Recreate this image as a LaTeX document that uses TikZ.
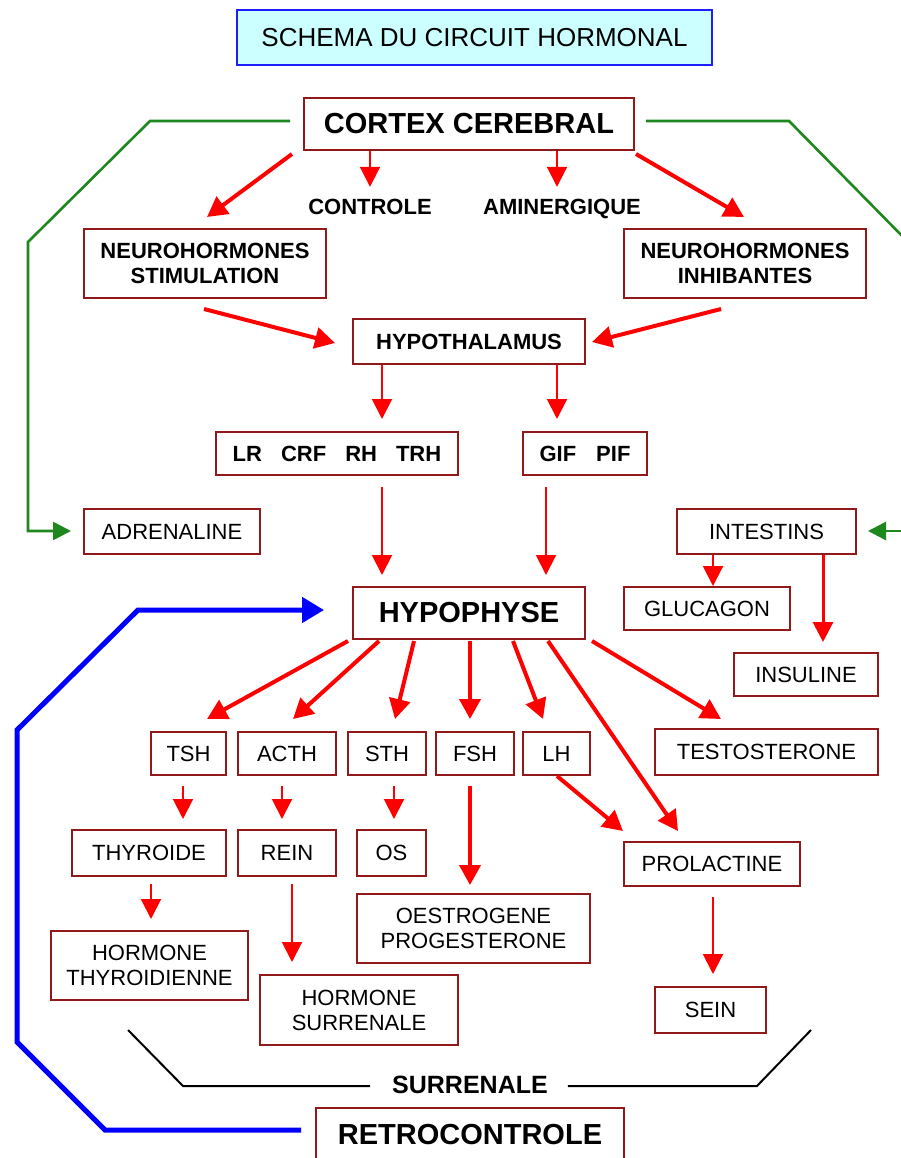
\documentclass[tikz,border=0pt]{standalone}
\usepackage{fontspec}
\setmainfont{Liberation Sans}
\usetikzlibrary{arrows.meta,calc}

\definecolor{boxred}{RGB}{145,25,25}
\definecolor{titlefill}{RGB}{204,255,255}
\definecolor{titleblue}{RGB}{30,30,255}
\definecolor{linkgreen}{RGB}{30,135,30}
\definecolor{fbblue}{RGB}{0,0,255}

\newcommand\txtnorm{\fontsize{22}{25}\selectfont}
\newcommand\txtbig{\fontsize{29}{32}\selectfont\bfseries}

\tikzset{
  box/.style={draw=boxred, line width=2pt, fill=white, inner sep=0pt,
              align=center, font=\txtnorm},
  boldbox/.style={box, font=\txtnorm\bfseries},
  lbl/.style={inner sep=0pt, text height=16pt, text depth=0pt, font=\txtnorm\bfseries},
  rthick/.style={draw=red, line width=4pt, -{Triangle[length=20pt,width=21pt]}},
  rthin/.style={draw=red, line width=2pt, -{Triangle[length=20pt,width=20pt]}},
  glink/.style={draw=linkgreen, line width=2.6pt, -{Triangle[length=18pt,width=18pt]}},
  blink/.style={draw=fbblue, line width=5pt, -{Triangle[length=22pt,width=25pt]}},
}

\begin{document}
\begin{tikzpicture}[x=1pt, y=-1pt]
\clip (0,0) rectangle (901,1158);
\fill[white] (0,0) rectangle (901,1158);

% ---- title ----
\node[draw=titleblue, fill=titlefill, line width=2pt, inner sep=0pt,
      minimum width=475pt, minimum height=55pt,
      font=\fontsize{26}{28}\selectfont] (title) at (474.5,37.5)
      {SCHEMA DU CIRCUIT HORMONAL};

% ---- upper part ----
\node[box, font=\txtbig, minimum width=330pt, minimum height=52pt] (cortex) at (469,124) {CORTEX CEREBRAL};
\node[lbl] (ctl)  at (370,207) {CONTROLE};
\node[lbl] (amin) at (562,207) {AMINERGIQUE};
\node[boldbox, minimum width=242pt, minimum height=69pt] (neuS) at (205,263.5) {NEUROHORMONES\\STIMULATION};
\node[boldbox, minimum width=242pt, minimum height=69pt] (neuI) at (745,263.5) {NEUROHORMONES\\INHIBANTES};
\node[boldbox, minimum width=232pt, minimum height=45pt] (hyth) at (469,341.5) {HYPOTHALAMUS};
\node[boldbox, minimum width=242pt, minimum height=43pt] (lr) at (337,453.5)
   {LR\hspace{19pt}CRF\hspace{19pt}RH\hspace{19pt}TRH};
\node[boldbox, minimum width=124pt, minimum height=43pt] (gif) at (585,453.5)
   {GIF\hspace{20pt}PIF};
\node[box, minimum width=176pt, minimum height=45pt] (adr) at (172,531.5) {ADRENALINE};
\node[box, minimum width=179pt, minimum height=45pt] (intest) at (766.5,531.5) {INTESTINS};
\node[box, font=\txtbig, minimum width=232pt, minimum height=52pt] (hypo) at (469,613) {HYPOPHYSE};
\node[box, minimum width=166pt, minimum height=43pt] (gluc) at (707,608.5) {GLUCAGON};
\node[box, minimum width=144pt, minimum height=43pt] (insu) at (806,674.5) {INSULINE};

% ---- pituitary hormones ----
\node[box, minimum width=75pt, minimum height=43pt] (tsh)  at (188.5,753.5) {TSH};
\node[box, minimum width=98pt, minimum height=43pt] (acth) at (287,753.5) {ACTH};
\node[box, minimum width=78pt, minimum height=43pt] (sth)  at (387,753.5) {STH};
\node[box, minimum width=78pt, minimum height=43pt] (fsh)  at (475,753.5) {FSH};
\node[box, minimum width=67pt, minimum height=43pt] (lh)   at (556.5,753.5) {LH};
\node[box, minimum width=223pt, minimum height=46pt] (testo) at (766.5,752) {TESTOSTERONE};

% ---- targets ----
\node[box, minimum width=154pt, minimum height=46pt] (thyro) at (149,853) {THYROIDE};
\node[box, minimum width=98pt, minimum height=46pt] (rein) at (287,853) {REIN};
\node[box, minimum width=69pt, minimum height=46pt] (os) at (391.5,853) {OS};
\node[box, minimum width=176pt, minimum height=44pt] (prol) at (712,864) {PROLACTINE};
\node[box, minimum width=233pt, minimum height=69pt] (oest) at (473.5,928.5) {OESTROGENE\\PROGESTERONE};
\node[box, minimum width=197pt, minimum height=69pt] (hthy) at (149.5,965.5) {HORMONE\\THYROIDIENNE};
\node[box, minimum width=198pt, minimum height=70pt] (hsur) at (359,1010) {HORMONE\\SURRENALE};
\node[box, minimum width=111pt, minimum height=46pt] (sein) at (710.5,1010) {SEIN};
\node[box, font=\txtbig, minimum width=308pt, minimum height=54pt] (retro) at (470,1135) {RETROCONTROLE};
\node[inner sep=0pt, font=\fontsize{25}{27}\selectfont\bfseries] (surr) at (470,1085) {SURRENALE};

% ---- cortex outputs ----
\draw[rthick] ($(cortex.south west)+(-11,3)$) -- ($(neuS.north)+(2,-11)$);
\draw[rthin]  ($(cortex.south)+(-99,0)$) -- ($(ctl.north)+(0,-12)$);
\draw[rthin]  ($(cortex.south)+(88,0)$) -- ($(amin.north)+(-5,-12)$);
\draw[rthick] ($(cortex.south east)+(1,3)$) -- ($(neuI.north)+(-1,-11)$);

% ---- to hypothalamus ----
\draw[rthick] ($(neuS.south)+(-1,10)$) -- ($(hyth.west)+(-17,1.5)$);
\draw[rthick] ($(neuI.south)+(-24,10)$) -- ($(hyth.east)+(6,0.5)$);

% ---- hypothalamus to releasing factors ----
\draw[rthin] ($(hyth.south)+(-87,0)$) -- ($(lr.north)+(45,-12)$);
\draw[rthin] ($(hyth.south)+(88,0)$) -- ($(gif.north)+(-28,-12)$);
\draw[rthin] ($(lr.south)+(45,11)$) -- ($(hypo.north)+(-87,-11)$);
\draw[rthin] ($(gif.south)+(-39,11)$) -- ($(hypo.north)+(77,-11)$);

% ---- intestines ----
\draw[rthin] ($(intest.south)+(-53.5,0)$) -- ($(gluc.north)+(6,0)$);
\draw[draw=red, line width=3pt, -{Triangle[length=20pt,width=20pt]}]
      ($(intest.south)+(56.5,0)$) -- ($(insu.north)+(17,-10)$);

% ---- pituitary outputs ----
\draw[rthick] ($(hypo.south)+(-121,1)$) -- ($(tsh.north)+(18.5,-12)$);
\draw[rthick] ($(hypo.south)+(-90,1)$) -- ($(acth.north)+(6,-12)$);
\draw[rthick] ($(hypo.south)+(-55,1)$) -- ($(sth.north)+(8,-12)$);
\draw[rthick] ($(hypo.south)+(1,1)$) -- ($(fsh.north)+(-5,-12)$);
\draw[rthick] ($(hypo.south)+(44,1)$) -- ($(lh.north)+(-13.5,-12)$);
\draw[rthick] ($(hypo.south)+(79,1)$) -- ($(prol.north)+(-34,-10)$);
\draw[rthick] ($(hypo.south)+(123,1)$) -- ($(testo.north)+(-45.5,-9)$);

% ---- second level ----
\draw[rthin] ($(tsh.south)+(-5.5,10)$) -- ($(thyro.north)+(34,-10)$);
\draw[rthin] ($(acth.south)+(-5,10)$) -- ($(rein.north)+(-5,-10)$);
\draw[rthin] ($(sth.south)+(7,10)$) -- ($(os.north)+(2.5,-10)$);
\draw[rthick] ($(fsh.south)+(-5,10)$) -- ($(oest.north)+(-3.5,-8)$);
\draw[rthick] ($(lh.south)+(0.5,0)$) -- ($(prol.north west)+(0,-10)$);
\draw[rthin] ($(thyro.south)+(2,7)$) -- ($(hthy.north)+(1.5,-11)$);
\draw[rthin] ($(rein.south)+(5,7)$) -- ($(hsur.north)+(-67,-12)$);
\draw[rthin] ($(prol.south)+(1,10)$) -- ($(sein.north)+(2.5,-12)$);

% ---- green links from the cortex ----
\draw[glink] ($(cortex.west)+(-13,-3)$) -- (150,121) -- (28,242) -- (28,531)
      -- ($(adr.west)+(-12,-0.5)$);
\draw[draw=linkgreen, line width=2.6pt] ($(cortex.east)+(11,-3)$) -- (789,121) -- (912,246);
\draw[glink] (915,531) -- ($(intest.east)+(11,-0.5)$);

% ---- adrenal bracket ----
\draw[black, line width=2pt] (128,1030) -- (183,1086) -- ($(surr.west)+(-22,1)$);
\draw[black, line width=2pt] ($(surr.east)+(20,1)$) -- (757,1086) -- (811,1030);

% ---- feedback loop ----
\draw[blink] ($(retro.west)+(-14,-5)$) -- (105,1130) -- (17,1042) -- (17,730)
      -- (138,610) -- ($(hypo.west)+(-28,-3)$);
\end{tikzpicture}
\end{document}
